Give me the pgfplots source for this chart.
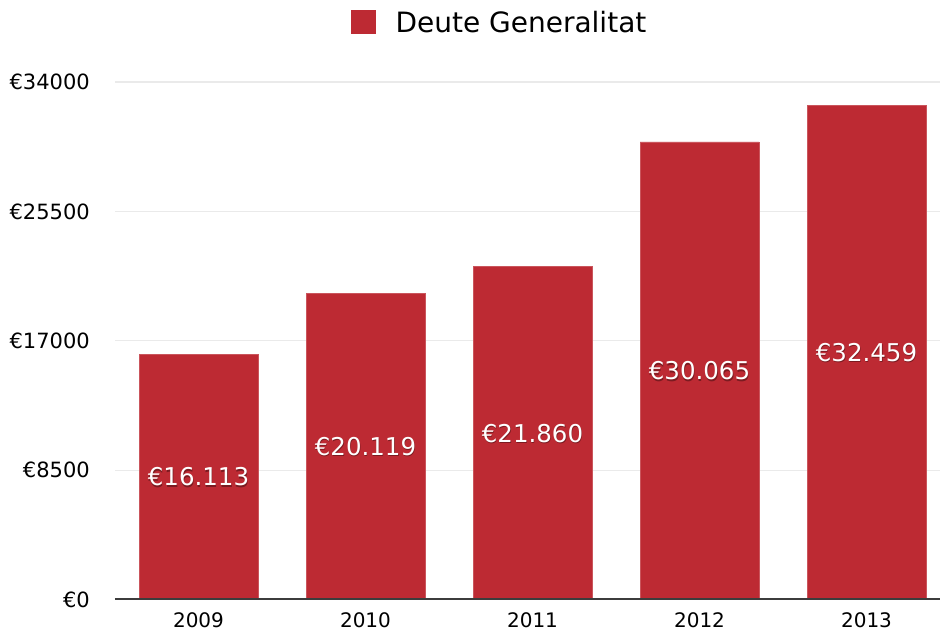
\documentclass[border=0pt]{standalone}
\usepackage{fontspec}
\setmainfont{DejaVu Sans}
\usepackage{pgfplots}
\usepackage{pgfplotstable}
\pgfplotsset{compat=1.18}

\definecolor{barred}{RGB}{189,42,51}
\definecolor{gridgray}{RGB}{234,234,234}
\definecolor{axisgray}{RGB}{60,60,60}

% debt per year, label text as shown on the bars
\pgfplotstableread{
x year v lab
0 2009 16113 €16.113
1 2010 20119 €20.119
2 2011 21860 €21.860
3 2012 30065 €30.065
4 2013 32459 €32.459
}\deute

\begin{document}
\begin{tikzpicture}
\useasboundingbox (-115pt,-32.5pt) rectangle (825pt,599.5pt);
\begin{axis}[
  at={(0pt,0pt)}, anchor=south west,
  scale only axis, width=825pt, height=517.5pt,
  xmin=-0.5, xmax=4.44, ymin=0, ymax=34000,
  axis line style={draw=none},
  xtick={0,1,2,3,4}, xticklabels={2009,2010,2011,2012,2013},
  ytick={0,8500,17000,25500,34000},
  yticklabels={€0,€8500,€17000,€25500,€34000},
  scaled y ticks=false,
  xtick pos=bottom, ytick pos=left,
  major tick length=0pt,
  tick label style={inner sep=0pt},
  xticklabel style={font=\fontsize{20}{24}\selectfont, anchor=north},
  yticklabel style={font=\fontsize{21}{25}\selectfont, anchor=east},
  xticklabel shift=13pt, yticklabel shift=25pt,
  ymajorgrids, grid style={draw=gridgray, line width=1.2pt},
  legend style={draw=none, fill=none, inner sep=0pt, outer sep=0pt,
    at={(axis description cs:0.286,1.1161)}, anchor=west,
    font=\fontsize{28}{33}\selectfont,
    nodes={inner sep=0pt, text depth=0pt}},
]
\addplot[ybar, bar width=0.712, bar shift=0pt, fill=barred,
  draw=barred!80!white, line width=0.6pt,
  legend image code/.code={\fill[barred] (0pt,-12pt) rectangle (24pt,11pt); \path (44pt,0pt);}]
  table[x=x, y=v] {\deute};
\addlegendentry{Deute Generalitat}

% shadow under the bar labels
\addplot[draw=none, mark=none, nodes near coords, point meta=explicit symbolic,
  every node near coord/.style={anchor=center, text=black, opacity=0.35,
    xshift=0.6pt, yshift=-1.4pt, font=\fontsize{24.5}{28}\selectfont}]
  table[x=x, y expr=\thisrow{v}/2, meta=lab] {\deute};
\addplot[draw=none, mark=none, nodes near coords, point meta=explicit symbolic,
  every node near coord/.style={anchor=center, text=white,
    font=\fontsize{24.5}{28}\selectfont}]
  table[x=x, y expr=\thisrow{v}/2, meta=lab] {\deute};

\draw[axisgray, line width=2pt] (rel axis cs:0,0) -- (rel axis cs:1,0);
\end{axis}
\end{tikzpicture}
\end{document}
